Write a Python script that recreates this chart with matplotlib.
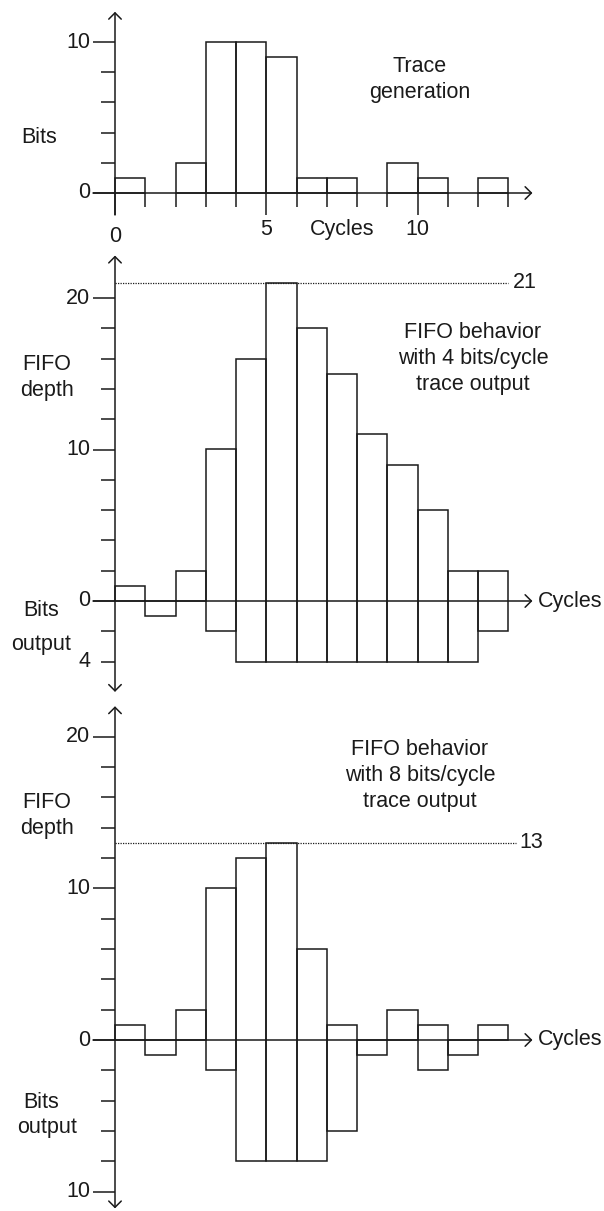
import matplotlib
matplotlib.use("Agg")
import matplotlib.pyplot as plt

# font that matches the Arial look of the reference
plt.rcParams["font.family"] = ["Liberation Sans", "DejaVu Sans"]

# ---------------- data ----------------
cycles = list(range(13))

# bits produced by the trace generator each cycle
trace_bits = [1, 0, 2, 10, 10, 9, 1, 1, 0, 2, 1, 0, 1]

# FIFO depth and bits output with 4 bits/cycle trace port
fifo4_depth = [1, 0, 2, 10, 16, 21, 18, 15, 11, 9, 6, 2, 2]
fifo4_out   = [0, 1, 0, 2, 4, 4, 4, 4, 4, 4, 4, 4, 2]
fifo4_peak  = 21

# FIFO depth and bits output with 8 bits/cycle trace port
fifo8_depth = [1, 0, 2, 10, 12, 13, 6, 1, 0, 2, 1, 0, 1]
fifo8_out   = [0, 1, 0, 2, 8, 8, 8, 6, 1, 0, 2, 1, 0]
fifo8_peak  = 13

# tick values
top_major_y = [0, 10]
top_minor_y = [2, 4, 6, 8]
top_major_x = [0, 5, 10]
top_minor_x = [1, 2, 3, 4, 6, 7, 8, 9, 11, 12, 13]

mid_major_y = [0, 10, 20]
mid_minor_y = [2, 4, 6, 8, 12, 14, 16, 18, -2, -4]
mid_labels  = {0: "0", 10: "10", 20: "20", -4: "4"}

bot_major_y = [0, 10, 20, -10]
bot_minor_y = [2, 4, 6, 8, 12, 14, 16, 18, -2, -4, -6, -8]
bot_labels  = {0: "0", 10: "10", 20: "20", -10: "10"}

# ---------------- style ----------------
INK = "#1a1a1a"
LW = 1.1
FS = 15.5
LS = 1.3                        # line spacing of stacked labels
W_PX, H_PX = 604, 1211
X0_PX, CW = 115, 30.25          # y-axis position and cycle width in pixels
MAJ_PX, MIN_PX = 22, 14         # tick lengths in pixels
ARROW = "->,head_length=0.45,head_width=0.45"
ARROW2 = "<->,head_length=0.45,head_width=0.45"
DOTS = (0, (1, 1))

fig = plt.figure(figsize=(W_PX / 100, H_PX / 100), dpi=100)


def make_axes(top_px, bottom_px, zero_px, unit_px):
    # one panel spanning the full width, scaled so data units map to fixed pixels
    ax = fig.add_axes([0, 1 - bottom_px / H_PX, 1, (bottom_px - top_px) / H_PX])
    ax.set_xlim(-X0_PX / CW, (W_PX - X0_PX) / CW)
    ax.set_ylim(-(bottom_px - zero_px) / unit_px, (zero_px - top_px) / unit_px)
    ax.axis("off")
    return ax, unit_px


def draw_bars(ax, depth, out):
    # each cycle is one open box from -out up to depth
    xs = [c for c, d, o in zip(cycles, depth, out) if d or o]
    hs = [d + o for d, o in zip(depth, out) if d or o]
    bs = [-o for d, o in zip(depth, out) if d or o]
    ax.bar(xs, hs, bottom=bs, width=1, align="edge", fill=False,
           edgecolor=INK, linewidth=LW)


def draw_y_ticks(ax, unit_px, major, minor, labels):
    maj = MAJ_PX / CW
    mnr = MIN_PX / CW
    ax.hlines(major, -maj, 0, color=INK, lw=LW)
    ax.hlines(minor, -mnr, 0, color=INK, lw=LW)
    for v, s in labels.items():
        ax.text(-25 / CW, v, s, ha="right", va="center", fontsize=FS, color=INK)


def arrow(ax, start, end, style=ARROW):
    ax.annotate("", xy=end, xytext=start,
                arrowprops=dict(arrowstyle=style, color=INK, lw=LW,
                                shrinkA=0, shrinkB=0))


def label(ax, x, y, s, ha="center"):
    ax.text(x, y, s, ha=ha, va="center", fontsize=FS, color=INK,
            linespacing=LS)


# ---------------- panel 1: trace generation ----------------
ax1, u1 = make_axes(0, 250, 193, 15.1)
draw_bars(ax1, trace_bits, [0] * len(trace_bits))
draw_y_ticks(ax1, u1, top_major_y, top_minor_y, {10: "10", 0: "0"})
ax1.vlines(top_major_x, -MAJ_PX / u1, 0, color=INK, lw=LW)
ax1.vlines(top_minor_x, -MIN_PX / u1, 0, color=INK, lw=LW)
arrow(ax1, (0, -MAJ_PX / u1), (0, 12.0))
arrow(ax1, (-MAJ_PX / CW, 0), (13.8, 0))
label(ax1, 0, -2.9, "0")
label(ax1, 5, -2.45, "5")
label(ax1, 10, -2.45, "10")
label(ax1, 7.5, -2.45, "Cycles")
label(ax1, -2.51, 3.7, "Bits")
label(ax1, 10.08, 7.5, "Trace\ngeneration")

# ---------------- panel 2: 4 bits/cycle ----------------
ax2, u2 = make_axes(250, 700, 601, 15.15)
draw_bars(ax2, fifo4_depth, fifo4_out)
draw_y_ticks(ax2, u2, mid_major_y, mid_minor_y, mid_labels)
arrow(ax2, (0, -6.0), (0, 22.8), ARROW2)
arrow(ax2, (-MAJ_PX / CW, 0), (13.8, 0))
ax2.hlines(fifo4_peak, 0, 13.0, color=INK, lw=0.9, linestyles=DOTS)
label(ax2, 13.15, fifo4_peak, str(fifo4_peak), ha="left")
label(ax2, 13.98, 0, "Cycles", ha="left")
label(ax2, -2.26, 14.75, "FIFO\ndepth")
label(ax2, -2.45, -0.6, "Bits")
label(ax2, -2.45, -2.85, "output")
label(ax2, 11.83, 16.0, "FIFO behavior\nwith 4 bits/cycle\ntrace output")

# ---------------- panel 3: 8 bits/cycle ----------------
ax3, u3 = make_axes(700, 1211, 1040, 15.17)
draw_bars(ax3, fifo8_depth, fifo8_out)
draw_y_ticks(ax3, u3, bot_major_y, bot_minor_y, bot_labels)
arrow(ax3, (0, -11.1), (0, 22.0), ARROW2)
arrow(ax3, (-MAJ_PX / CW, 0), (13.8, 0))
ax3.hlines(fifo8_peak, 0, 13.25, color=INK, lw=0.9, linestyles=DOTS)
label(ax3, 13.38, fifo8_peak, str(fifo8_peak), ha="left")
label(ax3, 13.98, 0, "Cycles", ha="left")
label(ax3, -2.26, 14.8, "FIFO\ndepth")
label(ax3, -2.45, -4.15, "Bits")
label(ax3, -2.26, -5.8, "output")
label(ax3, 10.08, 17.45, "FIFO behavior\nwith 8 bits/cycle\ntrace output")

fig.savefig("out.png", dpi=100)
